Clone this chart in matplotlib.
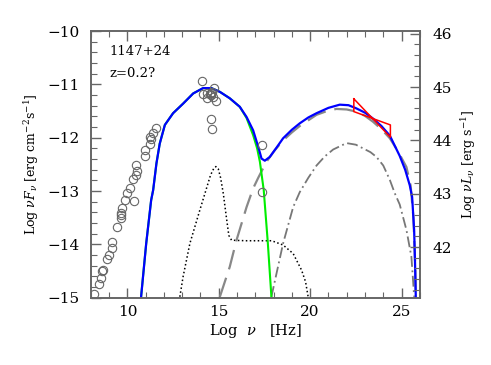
import matplotlib
matplotlib.use("Agg")
import matplotlib.pyplot as plt
from matplotlib.ticker import MultipleLocator

plt.rcParams['font.family'] = 'DejaVu Serif'
plt.rcParams['mathtext.fontset'] = 'dejavuserif'

# observed data (log nu, log nuFnu)
radio_x = [8.16, 8.47, 8.57, 8.62, 8.64, 8.89, 9.02, 9.15, 9.15, 9.42, 9.66, 9.66, 9.66, 9.68,
           9.88, 10.34, 10.0, 10.13, 10.30, 10.48, 10.53, 10.48, 10.94, 10.94, 11.21, 11.21,
           11.39, 11.57, 11.30]
radio_y = [-14.92, -14.75, -14.62, -14.49, -14.47, -14.27, -14.20, -14.06, -13.95, -13.67,
           -13.50, -13.45, -13.41, -13.31, -13.16, -13.19, -13.04, -12.94, -12.77, -12.70,
           -12.62, -12.51, -12.34, -12.23, -12.11, -11.99, -11.92, -11.82, -12.02]
opt_x = [14.09, 14.75, 14.14, 14.33, 14.51, 14.60, 14.87, 14.69, 14.38, 14.60, 14.64, 14.55, 14.65]
opt_y = [-10.94, -11.06, -11.18, -11.26, -11.18, -11.17, -11.31, -11.23, -11.17, -11.64, -11.84,
         -11.20, -11.15]
xray_x = [17.39, 17.35]
xray_y = [-12.14, -13.02]

# gamma-ray bow tie
bow_x = [22.39, 24.39, 24.39, 22.39, 22.39]
bow_y = [-11.27, -11.99, -11.76, -11.51, -11.27]

# total model
tot_x = [10.75, 11.03, 11.30, 11.41, 11.59, 11.77, 12.05, 12.50, 13.05, 13.60, 14.14, 14.60,
         15.06, 15.60, 16.15, 16.52, 16.88, 17.16, 17.34, 17.52, 17.79, 18.15, 18.52, 19.0,
         19.43, 19.9, 20.35, 21.0, 21.62, 22.1, 22.53, 23.0, 23.44, 23.9, 24.36, 24.9, 25.2,
         25.45, 25.58, 25.69, 25.74, 25.78]
tot_y = [-14.98, -13.98, -13.17, -12.98, -12.48, -12.11, -11.76, -11.54, -11.36, -11.17, -11.07,
         -11.07, -11.14, -11.26, -11.42, -11.61, -11.86, -12.17, -12.39, -12.43, -12.36, -12.19,
         -12.01, -11.85, -11.73, -11.62, -11.54, -11.44, -11.38, -11.39, -11.45, -11.53, -11.64,
         -11.78, -11.96, -12.34, -12.6, -12.89, -13.11, -13.73, -14.36, -14.98]

# synchrotron
syn_x = [10.75, 11.03, 11.30, 11.41, 11.59, 11.77, 12.05, 12.50, 13.05, 13.60, 14.14, 14.60,
         15.06, 15.60, 16.15, 16.52, 16.88, 17.1, 17.25, 17.46, 17.68, 17.88]
syn_y = [-14.98, -13.98, -13.17, -12.98, -12.48, -12.11, -11.76, -11.54, -11.36, -11.17, -11.07,
         -11.07, -11.14, -11.26, -11.42, -11.63, -11.95, -12.2, -12.45, -12.98, -13.95, -14.98]

# SSC
ssc_x = [15.06, 15.6, 15.97, 16.52, 16.88, 17.16, 17.61, 18.05, 18.52, 19.0, 19.43, 20.35,
         21.0, 21.44, 22.0, 22.53, 23.0, 23.44, 23.9, 24.36, 24.8, 25.27, 25.5, 25.65, 25.75,
         25.78]
ssc_y = [-14.98, -14.42, -13.92, -13.3, -12.95, -12.75, -12.45, -12.24, -12.05, -11.9, -11.78,
         -11.57, -11.49, -11.46, -11.47, -11.51, -11.59, -11.70, -11.84, -12.01, -12.25, -12.55,
         -12.9, -13.5, -14.4, -14.98]

# accretion disk / torus
disk_x = [12.87, 13.05, 13.42, 13.96, 14.3, 14.55, 14.72, 14.84, 14.97, 15.1, 15.25, 15.42,
          15.55, 15.7, 16.5, 17.9, 18.52, 19.07, 19.53, 19.75, 19.89]
disk_y = [-14.98, -14.6, -13.98, -13.36, -12.98, -12.7, -12.58, -12.54, -12.58, -12.75,
          -13.05, -13.5, -13.83, -13.92, -13.93, -13.93, -14.01, -14.17, -14.48, -14.7, -14.98]

# external Compton
ec_x = [17.88, 18.52, 19.07, 19.43, 19.9, 20.35, 20.8, 21.26, 21.99, 22.5, 22.90, 23.3, 23.63,
        24.0, 24.36, 24.63, 24.9, 25.27, 25.54, 25.63, 25.69]
ec_y = [-14.98, -13.98, -13.3, -13.02, -12.75, -12.52, -12.35, -12.22, -12.10, -12.13, -12.20,
        -12.27, -12.36, -12.52, -12.79, -13.04, -13.25, -13.73, -14.23, -14.67, -14.98]

fig = plt.figure(figsize=(4.91, 3.65), dpi=100)
ax = fig.add_axes([0.185, 0.184, 0.67, 0.731])
frame = '#666666'

ax.plot(disk_x, disk_y, color='black', ls=(0, (1, 1.6)), lw=1.1)
ax.plot(ec_x, ec_y, color='#777777', ls=(0, (6, 2, 1, 2)), lw=1.3)
ax.plot(ssc_x, ssc_y, color='#888888', ls=(0, (9, 4)), lw=1.6)
ax.plot(syn_x, syn_y, color='#00ee00', lw=1.5)
ax.plot(tot_x, tot_y, color='#0000ff', lw=1.6)
ax.plot(bow_x, bow_y, color='red', lw=1.1)
for xs, ys in [(radio_x, radio_y), (opt_x, opt_y), (xray_x, xray_y)]:
    ax.plot(xs, ys, 'o', mfc='none', mec='#666666', ms=6, mew=0.8)

ax.text(9.04, -10.45, '1147+24', fontsize=9.5)
ax.text(9.04, -10.86, 'z=0.2?', fontsize=9.5)

ax.set_xlim(8, 26)
ax.set_ylim(-15, -10)
ax.xaxis.set_major_locator(MultipleLocator(5))
ax.xaxis.set_minor_locator(MultipleLocator(1))
ax.yaxis.set_major_locator(MultipleLocator(1))
ax.yaxis.set_minor_locator(MultipleLocator(0.2))
ax.tick_params(which='both', direction='in', top=True, right=False, color=frame, labelsize=11)
ax.tick_params(which='major', length=7, width=1)
ax.tick_params(which='minor', length=4, width=0.8)
ax.tick_params(axis='y', which='major', pad=8)
ax.tick_params(axis='x', which='major', pad=5)
for s in ax.spines.values():
    s.set_color(frame)
    s.set_linewidth(1.2)
ax.set_xlabel(r'Log  $\nu$   [Hz]', fontsize=10.5, labelpad=2)
ax.set_ylabel(r'Log $\nu F_\nu$ [erg cm$^{-2}$s$^{-1}$]', fontsize=9, labelpad=5)

ax2 = ax.twinx()
ax2.set_ylim(41.05, 46.05)
ax2.yaxis.set_major_locator(MultipleLocator(1))
ax2.yaxis.set_minor_locator(MultipleLocator(0.2))
ax2.set_yticks([42, 43, 44, 45, 46])
ax2.tick_params(which='both', direction='in', color=frame, labelsize=11)
ax2.tick_params(which='major', length=7, width=1, pad=9)
ax2.tick_params(which='minor', length=4, width=0.8)
for s in ax2.spines.values():
    s.set_color(frame)
    s.set_linewidth(1.2)
ax2.set_ylabel(r'Log $\nu L_\nu$ [erg s$^{-1}$]', fontsize=9, labelpad=5)

fig.savefig('out.png', dpi=100)
